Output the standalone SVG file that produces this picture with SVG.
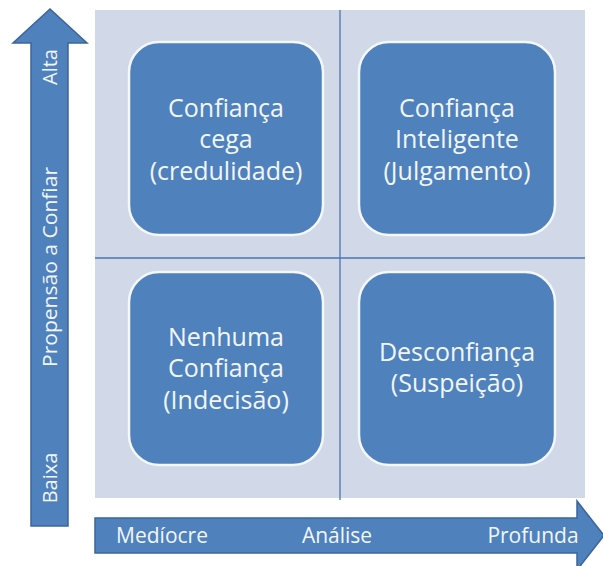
<svg xmlns="http://www.w3.org/2000/svg" width="603" height="566" viewBox="0 0 603 566">
<style>
.arrow{fill:#4F81BD;stroke:#3B659A;stroke-width:1.5}
.box{fill:#4F81BD;stroke:#F4F7FB;stroke-width:2.5}
.t{font-family:"Open Sans","Liberation Sans",sans-serif;fill:#F2F6FB;text-anchor:middle}
.bt{font-size:25px}
.at{font-size:21px}
.vt{font-size:20px}
.div{stroke:#4A76AE;stroke-width:1.3;fill:none}
</style>
<rect x="0" y="0" width="603" height="566" fill="#FFFFFF"/>
<g id="panel">
<rect x="95" y="10" width="490" height="488" fill="#D1D8E7"/>
</g>
<g id="connectors">
<line class="div" x1="340" y1="10" x2="340" y2="500"/>
<line class="div" x1="95" y1="258" x2="585" y2="258"/>
</g>
<g id="y-axis">
<path class="arrow" d="M31,526 L31,43 L13,43 L50,9 L87,43 L68,43 L68,526 Z"/>
<text class="t vt" transform="translate(57,67) rotate(-90)">Alta</text>
<text class="t vt" transform="translate(57,267) rotate(-90)" textLength="200" lengthAdjust="spacingAndGlyphs">Propensão a Confiar</text>
<text class="t vt" transform="translate(57,478) rotate(-90)">Baixa</text>
</g>
<g id="x-axis">
<path class="arrow" d="M95,518 L577,518 L577,501 L604,535.5 L577,570 L577,553 L95,553 Z"/>
<text class="t at" x="162" y="543">Medíocre</text>
<text class="t at" x="337" y="543">Análise</text>
<text class="t at" x="533" y="543">Profunda</text>
</g>
<g id="node-cega">
<rect class="box" x="129" y="42" width="194" height="193" rx="30"/>
<text class="t bt" x="226" y="117">Confiança</text>
<text class="t bt" x="226" y="148">cega</text>
<text class="t bt" x="226" y="180">(credulidade)</text>
</g>
<g id="node-inteligente">
<rect class="box" x="359" y="42" width="196" height="193" rx="30"/>
<text class="t bt" x="457" y="117">Confiança</text>
<text class="t bt" x="457" y="148">Inteligente</text>
<text class="t bt" x="457" y="180">(Julgamento)</text>
</g>
<g id="node-nenhuma">
<rect class="box" x="129" y="272" width="194" height="193" rx="30"/>
<text class="t bt" x="226" y="346">Nenhuma</text>
<text class="t bt" x="226" y="377">Confiança</text>
<text class="t bt" x="226" y="409">(Indecisão)</text>
</g>
<g id="node-desconfianca">
<rect class="box" x="359" y="272" width="196" height="193" rx="30"/>
<text class="t bt" x="457" y="361">Desconfiança</text>
<text class="t bt" x="457" y="392">(Suspeição)</text>
</g>
</svg>
